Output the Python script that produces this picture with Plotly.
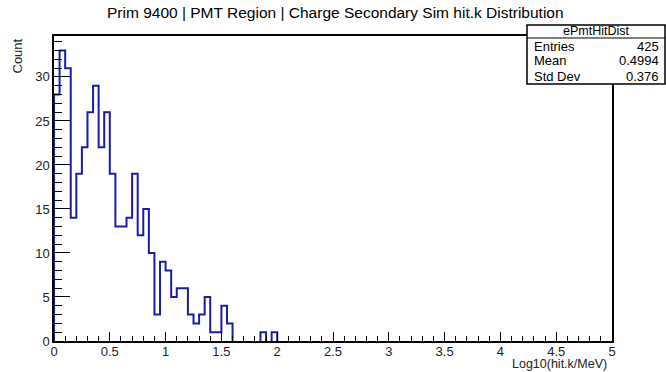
import numpy as np
import plotly.graph_objects as go

# Histogram definition: 100 bins of width 0.05 over [0, 5]
bin_width = 0.05
n_bins = 100

# Non-empty bin contents (bin index -> count)
bin_index = [0, 1, 2, 3, 4, 5, 6, 7, 8, 9,
             10, 11, 12, 13, 14, 15, 16, 17, 18, 19,
             20, 21, 22, 23, 24, 25, 26, 27, 28, 29,
             30, 31, 37, 39]
bin_count = [28, 33, 31, 14, 19, 22, 26, 29, 22, 26,
             19, 13, 13, 14, 19, 12, 15, 10, 3, 9,
             8, 5, 6, 6, 3, 2, 3, 5, 1, 1,
             4, 2, 1, 1]

hist_name = "ePmtHitDist"
stat_labels = ["Entries", "Mean", "Std Dev"]
stat_mean = "0.4994"
stat_std = "0.376"

title = "Prim 9400 | PMT Region | Charge Secondary Sim hit.k Distribution"
x_title = "Log10(hit.k/MeV)"
y_title = "Count"

counts = np.zeros(n_bins)
counts[bin_index] = bin_count
edges = np.arange(n_bins + 1) * bin_width
entries = int(counts.sum())

# Build the step outline run by run, so empty stretches leave the axis alone
xs, ys = [], []
i = 0
while i < n_bins:
    if counts[i] == 0:
        i += 1
        continue
    j = i
    xs.append(edges[i]); ys.append(0.0)
    while j < n_bins and counts[j] > 0:
        xs.append(edges[j]); ys.append(counts[j])
        j += 1
    xs.append(edges[j]); ys.append(0.0)
    xs.append(None); ys.append(None)
    i = j

FONT = "Liberation Sans, Arial, sans-serif"
LINE = "#1c1ca8"

fig = go.Figure()
fig.add_trace(go.Scatter(
    x=xs, y=ys,
    mode="lines",
    line=dict(color=LINE, width=2, shape="hv"),
    connectgaps=False,
    hoverinfo="skip",
    showlegend=False,
))

ymax = 1.05 * counts.max()

fig.update_layout(
    width=666, height=372,
    margin=dict(l=54, r=54, t=36, b=31),
    paper_bgcolor="white", plot_bgcolor="white",
    font=dict(family=FONT, size=13, color="black"),
    showlegend=False,
    xaxis=dict(
        range=[0, 5], showgrid=False, zeroline=False, layer="above traces",
        showline=True, linecolor="black", linewidth=1.5, mirror=True,
        ticks="inside", ticklen=9, tickwidth=1.2, tickcolor="black",
        dtick=0.5, tick0=0, ticklabelstandoff=-2,
        minor=dict(ticks="inside", ticklen=5, dtick=0.1, tickcolor="black", tickwidth=1.2),
        tickfont=dict(size=13, color="#222"),
    ),
    yaxis=dict(
        range=[0, ymax], showgrid=False, zeroline=False, layer="above traces",
        showline=True, linecolor="black", linewidth=1.5, mirror=True,
        ticks="inside", ticklen=16, tickwidth=1.2, tickcolor="black",
        dtick=5, tick0=0,
        minor=dict(ticks="inside", ticklen=8, dtick=1, tickcolor="black", tickwidth=1.2),
        tickfont=dict(size=13, color="#222"),
    ),
)


def py(pix):
    return 1 - (pix - 36) / 305


def px(pix):
    return (pix - 54) / 558


annotations = [
    dict(text=title, x=px(335), y=py(12), xref="paper", yref="paper",
         xanchor="center", yanchor="middle", showarrow=False,
         font=dict(size=15.5, color="black")),
    dict(text=x_title, x=px(609), y=py(364), xref="paper", yref="paper",
         xanchor="right", yanchor="middle", showarrow=False,
         font=dict(size=12.5, color="#222")),
    dict(text=y_title, x=px(17), y=py(37), xref="paper", yref="paper",
         xanchor="center", yanchor="top", showarrow=False,
         textangle=-90, font=dict(size=13, color="#222")),
]

fig.add_shape(type="rect", xref="paper", yref="paper",
              x0=px(527), x1=px(665), y0=py(84), y1=py(25),
              line=dict(color="black", width=1.5), fillcolor="white", layer="above")
fig.add_shape(type="line", xref="paper", yref="paper",
              x0=px(527), x1=px(665), y0=py(38), y1=py(38),
              line=dict(color="black", width=1.2), layer="above")

annotations.append(dict(text=hist_name, x=px(596), y=py(31.5), xref="paper", yref="paper",
                        xanchor="center", yanchor="middle", showarrow=False,
                        font=dict(size=12.5, color="black")))
values = [str(entries), stat_mean, stat_std]
for k, (lab, val) in enumerate(zip(stat_labels, values)):
    yc = 46 + 15 * k
    annotations.append(dict(text=lab, x=px(532), y=py(yc), xref="paper", yref="paper",
                            xanchor="left", yanchor="middle", showarrow=False,
                            font=dict(size=13, color="black")))
    annotations.append(dict(text=val, x=px(661), y=py(yc), xref="paper", yref="paper",
                            xanchor="right", yanchor="middle", showarrow=False,
                            font=dict(size=13, color="black")))

fig.update_layout(annotations=annotations)
fig.write_html("out.html")
